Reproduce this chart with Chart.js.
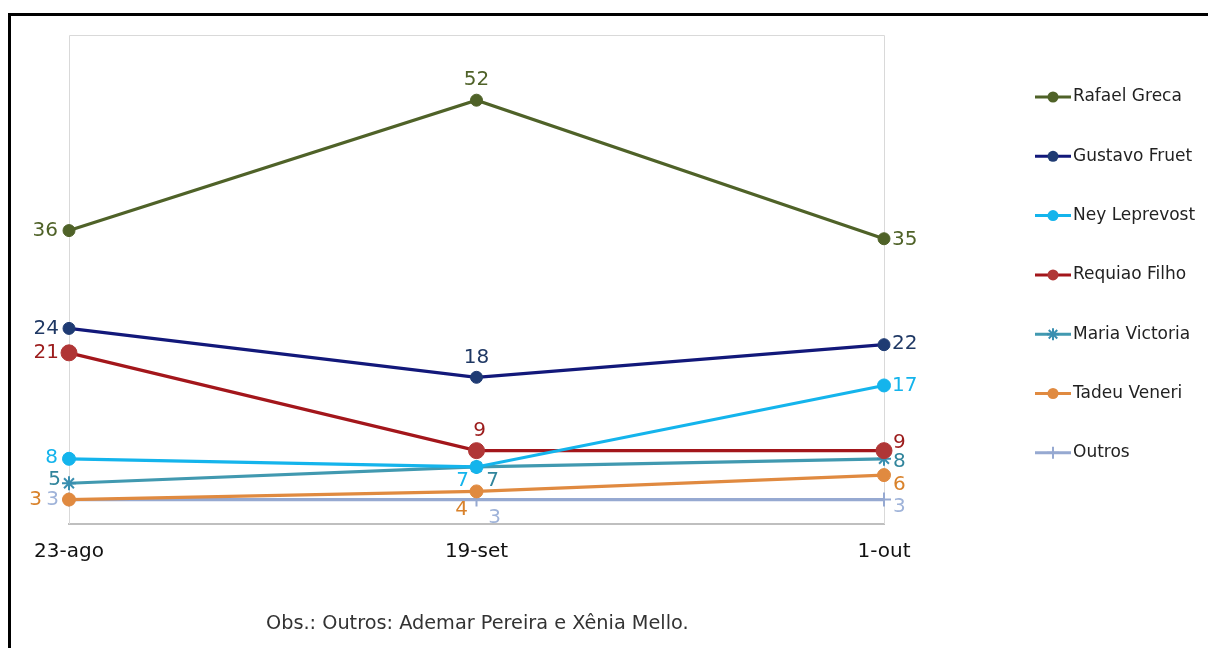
<!DOCTYPE html>
<html>
<head>
<meta charset="utf-8">
<script src="https://cdn.jsdelivr.net/npm/chart.js@4.4.1/dist/chart.umd.min.js"></script>
<style>
  html, body { margin: 0; padding: 0; background: #fff; }
  #wrap { position: relative; width: 1208px; height: 648px; overflow: hidden; }
  #frame { position: absolute; left: 8px; top: 13px; width: 1300px; height: 700px;
           border-top: 3px solid #000; border-left: 3px solid #000; box-sizing: border-box; }
  #chart { position: absolute; left: 0; top: 0; }
  #note { position: absolute; left: 266px; top: 611px; font: 19.3px "DejaVu Sans", Verdana, sans-serif;
          color: #333; line-height: 24px; white-space: nowrap; }
</style>
</head>
<body>
<div id="wrap">
  <div id="frame"></div>
  <canvas id="chart" width="1208" height="648"></canvas>
  <div id="note">Obs.: Outros: Ademar Pereira e Xênia Mello.</div>
</div>
<script>
const dates = ['23-ago', '19-set', '1-out'];
const names = ['Rafael Greca', 'Gustavo Fruet', 'Ney Leprevost', 'Requiao Filho', 'Maria Victoria', 'Tadeu Veneri', 'Outros'];

const rafael = [36, 52, 35];
const gustavo = [24, 18, 22];
const ney = [8, 7, 17];
const requiao = [21, 9, 9];
const maria = [5, 7, 8];
const tadeu = [3, 4, 6];
const outros = [3, 3, 3];

const values = [rafael, gustavo, ney, requiao, maria, tadeu, outros];

// look of each series
const lineColors = ['#4f6228', '#12187a', '#14b4ec', '#a3161b', '#4199b0', '#e08a40', '#96a9d1'];
const pointColors = ['#4f6228', '#1f3b73', '#14b4ec', '#b03636', '#3a8fb0', '#e08a40', '#96a9d1'];
const labelColors = ['#4f6228', '#1f3864', '#14b4ec', '#9c1c1c', '#31859c', '#d9822b', '#9fb3d9'];
const pointStyles = ['circle', 'circle', 'circle', 'circle', 'star', 'circle', 'cross'];
const pointSizes = [6, 6, 6.5, 8, 7, 6.5, 7];

// where each value label sits, relative to its point
const L = (dx, dy) => ({ dx, dy, align: 'right' });
const R = (dx, dy) => ({ dx, dy, align: 'left' });
const C = (dx, dy) => ({ dx, dy, align: 'center' });
const labelPlaces = [
  [L(-11, 0), C(0, -20), R(8, 1)],
  [L(-10, 0), C(0, -20), R(8, -1)],
  [L(-11, -1), C(-14, 14), R(8, 0)],
  [L(-10, 0), C(3, -20), R(9, -8)],
  [L(-8, -3), C(16, 14), R(9, 3)],
  [L(-27, 0), C(-15, 18), R(9, 10)],
  [L(-10, 0), C(18, 18), R(9, 7)]
];

const labelFont = '20px "DejaVu Sans", Verdana, sans-serif';

const valueLabels = {
  id: 'valueLabels',
  afterDatasetsDraw(chart) {
    const ctx = chart.ctx;
    ctx.save();
    ctx.font = labelFont;
    ctx.textBaseline = 'middle';
    chart.data.datasets.forEach((ds, i) => {
      const meta = chart.getDatasetMeta(i);
      meta.data.forEach((pt, j) => {
        const p = labelPlaces[i][j];
        ctx.fillStyle = labelColors[i];
        ctx.textAlign = p.align;
        ctx.fillText(String(ds.data[j]), pt.x + p.dx, pt.y + p.dy);
      });
    });
    ctx.restore();
  }
};

const plotFrame = {
  id: 'plotFrame',
  beforeDatasetsDraw(chart) {
    const { ctx, chartArea: a } = chart;
    ctx.save();
    ctx.strokeStyle = '#d9d9d9';
    ctx.lineWidth = 1;
    ctx.beginPath();
    ctx.moveTo(a.left + 0.5, a.bottom);
    ctx.lineTo(a.left + 0.5, a.top + 0.5);
    ctx.lineTo(a.right + 0.5, a.top + 0.5);
    ctx.lineTo(a.right + 0.5, a.bottom);
    ctx.stroke();
    ctx.restore();
  }
};

const sideLegend = {
  id: 'sideLegend',
  afterDraw(chart) {
    const ctx = chart.ctx;
    ctx.save();
    ctx.font = '17px "DejaVu Sans", Verdana, sans-serif';
    ctx.textBaseline = 'middle';
    ctx.textAlign = 'left';
    chart.data.datasets.forEach((ds, i) => {
      const y = 97 + i * 59.3;
      ctx.strokeStyle = lineColors[i];
      ctx.lineWidth = 3;
      ctx.beginPath();
      ctx.moveTo(1035, y);
      ctx.lineTo(1071, y);
      ctx.stroke();
      ctx.fillStyle = pointColors[i];
      ctx.strokeStyle = pointColors[i];
      ctx.lineWidth = 2;
      if (pointStyles[i] === 'circle') {
        ctx.beginPath();
        ctx.arc(1053, y, 5.5, 0, Math.PI * 2);
        ctx.fill();
      } else {
        Chart.helpers.drawPoint(ctx, { pointStyle: pointStyles[i], radius: 6, rotation: 0, borderWidth: 2 }, 1053, y);
      }
      ctx.fillStyle = '#222';
      ctx.fillText(ds.label, 1073, y);
    });
    ctx.restore();
  }
};

const datasets = names.map((name, i) => ({
  label: name,
  data: values[i],
  borderColor: lineColors[i],
  backgroundColor: pointColors[i],
  pointBackgroundColor: pointColors[i],
  pointBorderColor: pointColors[i],
  pointStyle: pointStyles[i],
  pointRadius: pointSizes[i],
  pointBorderWidth: pointStyles[i] === 'circle' ? 1 : 2,
  borderWidth: 3.2,
  tension: 0,
  fill: false
}));

new Chart(document.getElementById('chart'), {
  type: 'line',
  data: { labels: dates, datasets: datasets },
  plugins: [plotFrame, valueLabels, sideLegend],
  options: {
    responsive: false,
    animation: false,
    layout: { padding: { left: 69, right: 324, top: 35, bottom: 0 } },
    plugins: { legend: { display: false }, tooltip: { enabled: false } },
    scales: {
      x: {
        offset: false,
        grid: { display: false, drawTicks: false },
        border: { display: true, color: '#bfbfbf', width: 2 },
        ticks: {
          padding: 16,
          color: '#111',
          maxRotation: 0,
          font: { family: '"DejaVu Sans", Verdana, sans-serif', size: 20 }
        },
        afterFit(s) { s.height = 124; }
      },
      y: { display: false, min: 0, max: 60 }
    }
  }
});
</script>
</body>
</html>
